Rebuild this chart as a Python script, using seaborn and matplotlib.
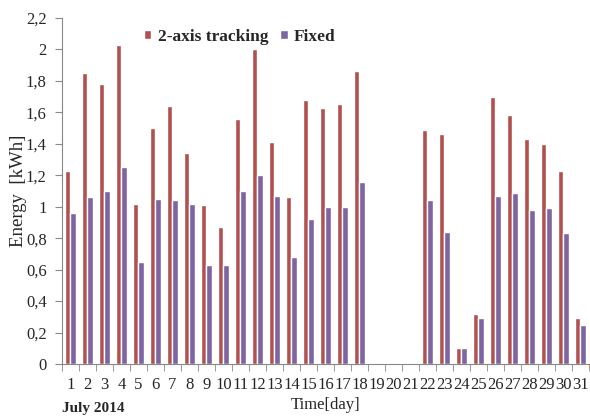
import matplotlib
matplotlib.use("Agg")
import matplotlib.pyplot as plt
import seaborn as sns
import pandas as pd
import numpy as np

days = [str(d) for d in range(1, 32)]
tracking = [1.23, 1.85, 1.78, 2.03, 1.02, 1.50, 1.64, 1.34, 1.01, 0.87,
            1.56, 2.00, 1.41, 1.06, 1.68, 1.63, 1.65, 1.86, 0, 0,
            0, 1.49, 1.46, 0.10, 0.32, 1.70, 1.58, 1.43, 1.40, 1.23, 0.29]
fixed = [0.96, 1.06, 1.10, 1.25, 0.65, 1.05, 1.04, 1.02, 0.63, 0.63,
         1.10, 1.20, 1.07, 0.68, 0.92, 1.00, 1.00, 1.16, 0, 0,
         0, 1.04, 0.84, 0.10, 0.29, 1.07, 1.09, 0.98, 0.99, 0.83, 0.25]
series = ["2-axis tracking", "Fixed"]
yticks = [0, 0.2, 0.4, 0.6, 0.8, 1, 1.2, 1.4, 1.6, 1.8, 2, 2.2]
ytick_labels = ["0", "0,2", "0,4", "0,6", "0,8", "1", "1,2", "1,4", "1,6", "1,8", "2", "2,2"]

df = pd.DataFrame({
    "day": days * 2,
    "energy": tracking + fixed,
    "series": [series[0]] * len(days) + [series[1]] * len(days),
})

sns.set_style("white")
plt.rcParams["font.family"] = ["Liberation Serif", "DejaVu Serif"]

fig = plt.figure(figsize=(5.9, 4.17), dpi=100)
ax = fig.add_axes([0.105, 0.127, 0.893, 0.830])

sns.barplot(data=df, x="day", y="energy", hue="series", order=days,
            hue_order=series, palette=["#B0504F", "#7F64A2"],
            width=0.62, ax=ax, saturation=1, errorbar=None)

ax.set_ylim(0, 2.2)
ax.set_xlim(-0.5, len(days) - 0.5)
ax.set_yticks(yticks)
ax.set_yticklabels(ytick_labels, fontsize=12)
ax.set_xticks(range(len(days)))
ax.set_xticklabels(days, fontsize=12)
ax.set_xticks(np.arange(-0.5, len(days), 1), minor=True)
ax.tick_params(axis="x", which="major", length=0, pad=9)
ax.tick_params(axis="x", which="minor", length=5, color="#888888", direction="out")
ax.tick_params(axis="y", length=5, color="#888888", direction="out", pad=6)
ax.tick_params(bottom=True, left=True, which="both")

for s in ["top", "right"]:
    ax.spines[s].set_visible(False)
for s in ["left", "bottom"]:
    ax.spines[s].set_color("#888888")
    ax.spines[s].set_linewidth(0.8)

ax.set_xlabel("Time[day]", fontsize=12, labelpad=3)
ax.set_ylabel("Energy  [kWh]", fontsize=13.5, labelpad=-1)

leg = ax.legend(loc="center left", bbox_to_anchor=(0.155, 0.945), ncol=2,
                frameon=False, prop={"weight": "bold", "size": 12.5},
                handlelength=0.45, handleheight=0.45, handletextpad=0.35,
                columnspacing=0.7, borderpad=0, borderaxespad=0)

fig.text(0.105, 0.005, "July 2014", fontsize=11, fontweight="bold", ha="left", va="bottom")

fig.savefig("out.png", dpi=100)
